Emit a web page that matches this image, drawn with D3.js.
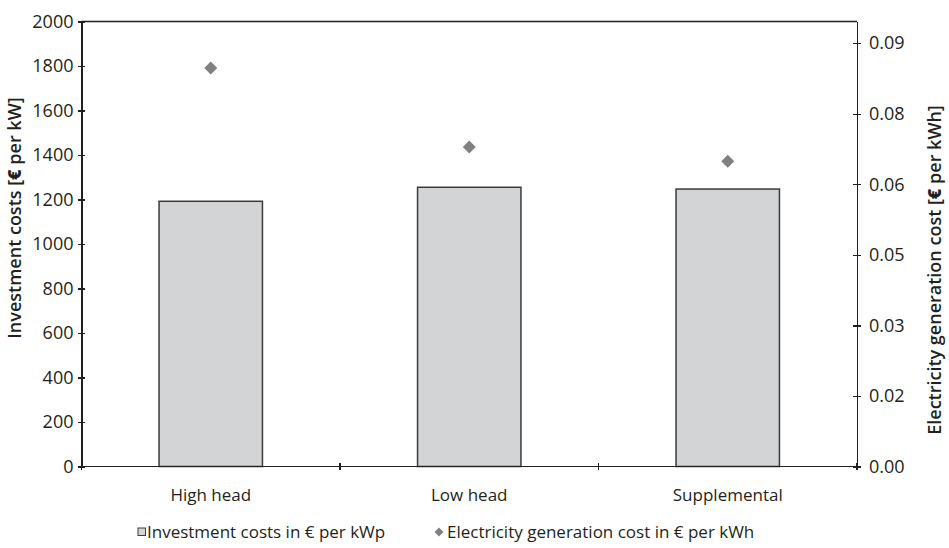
<!DOCTYPE html>
<html>
<head>
	<title>Investment and generation cost</title>
	<meta charset="utf-8">
	<script src="https://cdnjs.cloudflare.com/ajax/libs/d3/7.8.5/d3.min.js"></script>
	<style>
	body { margin: 0; background: #fff; }
	text { font-family: "Open Sans", "DejaVu Sans", sans-serif; fill: #231f20; }
	.axis path, .axis line { stroke: #231f20; stroke-width: 1.3px; shape-rendering: crispEdges; }
	.bar { fill: #d3d4d6; stroke: #3b3b3b; stroke-width: 1.5px; }
	.dot { fill: #808080; }
	</style>
</head>
<body>
<svg id="chart" width="949" height="548"></svg>

<script>
// chart values
var categories = ["High head", "Low head", "Supplemental"];
var investment = [1192, 1255, 1247];        // € per kW (left axis)
var generation = [0.0847, 0.0679, 0.0649];  // € per kWh (right axis)

var leftTicks = [0, 200, 400, 600, 800, 1000, 1200, 1400, 1600, 1800, 2000];
var rightTicks = [0, 0.015, 0.03, 0.045, 0.06, 0.075, 0.09];
var rightTickLabels = ["0.00", "0.02", "0.03", "0.05", "0.06", "0.08", "0.09"];
var legendLabels = ["Investment costs in € per kWp", "Electricity generation cost in € per kWh"];

var svg = d3.select("svg"),
    margin = {top: 21.5, right: 92, bottom: 81.5, left: 81.5},
    width = +svg.attr("width") - margin.left - margin.right,
    height = +svg.attr("height") - margin.top - margin.bottom,
    g = svg.append("g").attr("transform", "translate(" + margin.left + "," + margin.top + ")");

var x = d3.scaleBand().domain(categories).range([0, width]),
    yL = d3.scaleLinear().domain([0, 2000]).range([height, 0]),
    yR = d3.scaleLinear().domain([0, 0.0946]).range([height, 0]);

// bars
g.selectAll(".bar")
    .data(categories)
  .enter().append("rect")
    .attr("class", "bar")
    .attr("x", function(d) { return x(d) + x.bandwidth() * 0.3; })
    .attr("width", x.bandwidth() * 0.4)
    .attr("y", function(d, i) { return yL(investment[i]); })
    .attr("height", function(d, i) { return height - yL(investment[i]); });

// diamonds
var diamond = d3.symbol().type(d3.symbolSquare).size(85);
g.selectAll(".dot")
    .data(categories)
  .enter().append("path")
    .attr("class", "dot")
    .attr("d", diamond)
    .attr("transform", function(d, i) {
      return "translate(" + (x(d) + x.bandwidth() / 2) + "," + yR(generation[i]) + ") rotate(45)";
    });

// frame top
g.append("line")
    .attr("x1", 0).attr("x2", width)
    .attr("y1", 0).attr("y2", 0)
    .style("stroke", "#231f20").style("stroke-width", 1.3);

// left axis
var axL = g.append("g")
    .attr("class", "axis")
    .call(d3.axisLeft(yL).tickValues(leftTicks).tickFormat(d3.format("d"))
      .tickSizeInner(4).tickSizeOuter(0).tickPadding(4));
axL.selectAll(".tick line").attr("x2", -4).attr("x1", 3);
axL.selectAll(".tick text").style("font-size", "18px");

// right axis
var axR = g.append("g")
    .attr("class", "axis")
    .attr("transform", "translate(" + width + ",0)")
    .call(d3.axisRight(yR).tickValues(rightTicks)
      .tickFormat(function(d, i) { return rightTickLabels[i]; })
      .tickSizeInner(4).tickSizeOuter(0).tickPadding(8));
axR.selectAll(".tick line").attr("x1", -4).attr("x2", 4);
axR.selectAll(".tick text").style("font-size", "18px");

// bottom axis: ticks on band edges, labels under band centres
var edges = categories.map(function(d) { return x(d); }).concat([width]);
var axB = g.append("g")
    .attr("class", "axis")
    .attr("transform", "translate(0," + height + ")");
axB.append("line").attr("x1", -4).attr("x2", width + 4);
axB.selectAll(".edge")
    .data(edges)
  .enter().append("line")
    .attr("x1", function(d) { return d; })
    .attr("x2", function(d) { return d; })
    .attr("y1", -3.5).attr("y2", 3.5);
axB.selectAll(".cat")
    .data(categories)
  .enter().append("text")
    .attr("x", function(d) { return x(d) + x.bandwidth() / 2; })
    .attr("y", 34)
    .style("text-anchor", "middle")
    .style("font-size", "17px")
    .text(function(d) { return d; });

// axis titles
var tL = svg.append("text")
    .attr("transform", "translate(21,218) rotate(-90)")
    .style("text-anchor", "middle")
    .style("font-size", "18px")
    .style("font-weight", "600");
tL.append("tspan").text("Investment costs [");
tL.append("tspan").style("font-weight", "800").text("€");
tL.append("tspan").text(" per kW]");

var tR = svg.append("text")
    .attr("transform", "translate(941,270) rotate(-90)")
    .style("text-anchor", "middle")
    .style("font-size", "18px")
    .style("font-weight", "600");
tR.append("tspan").text("Electricity generation cost [");
tR.append("tspan").style("font-weight", "800").text("€");
tR.append("tspan").text(" per kWh]");

// legend
var legend = svg.append("g").attr("class", "legend");
legend.append("rect")
    .attr("x", 138).attr("y", 528)
    .attr("width", 7.5).attr("height", 7.5)
    .style("fill", "#d3d4d6").style("stroke", "#3b3b3b").style("stroke-width", 1);
legend.append("text")
    .attr("x", 147).attr("y", 538)
    .style("font-size", "17px")
    .text(legendLabels[0]);
legend.append("path")
    .attr("class", "dot")
    .attr("d", d3.symbol().type(d3.symbolSquare).size(40))
    .attr("transform", "translate(439,532) rotate(45)");
legend.append("text")
    .attr("x", 447).attr("y", 538)
    .style("font-size", "17px")
    .text(legendLabels[1]);
</script>
</body>
</html>
